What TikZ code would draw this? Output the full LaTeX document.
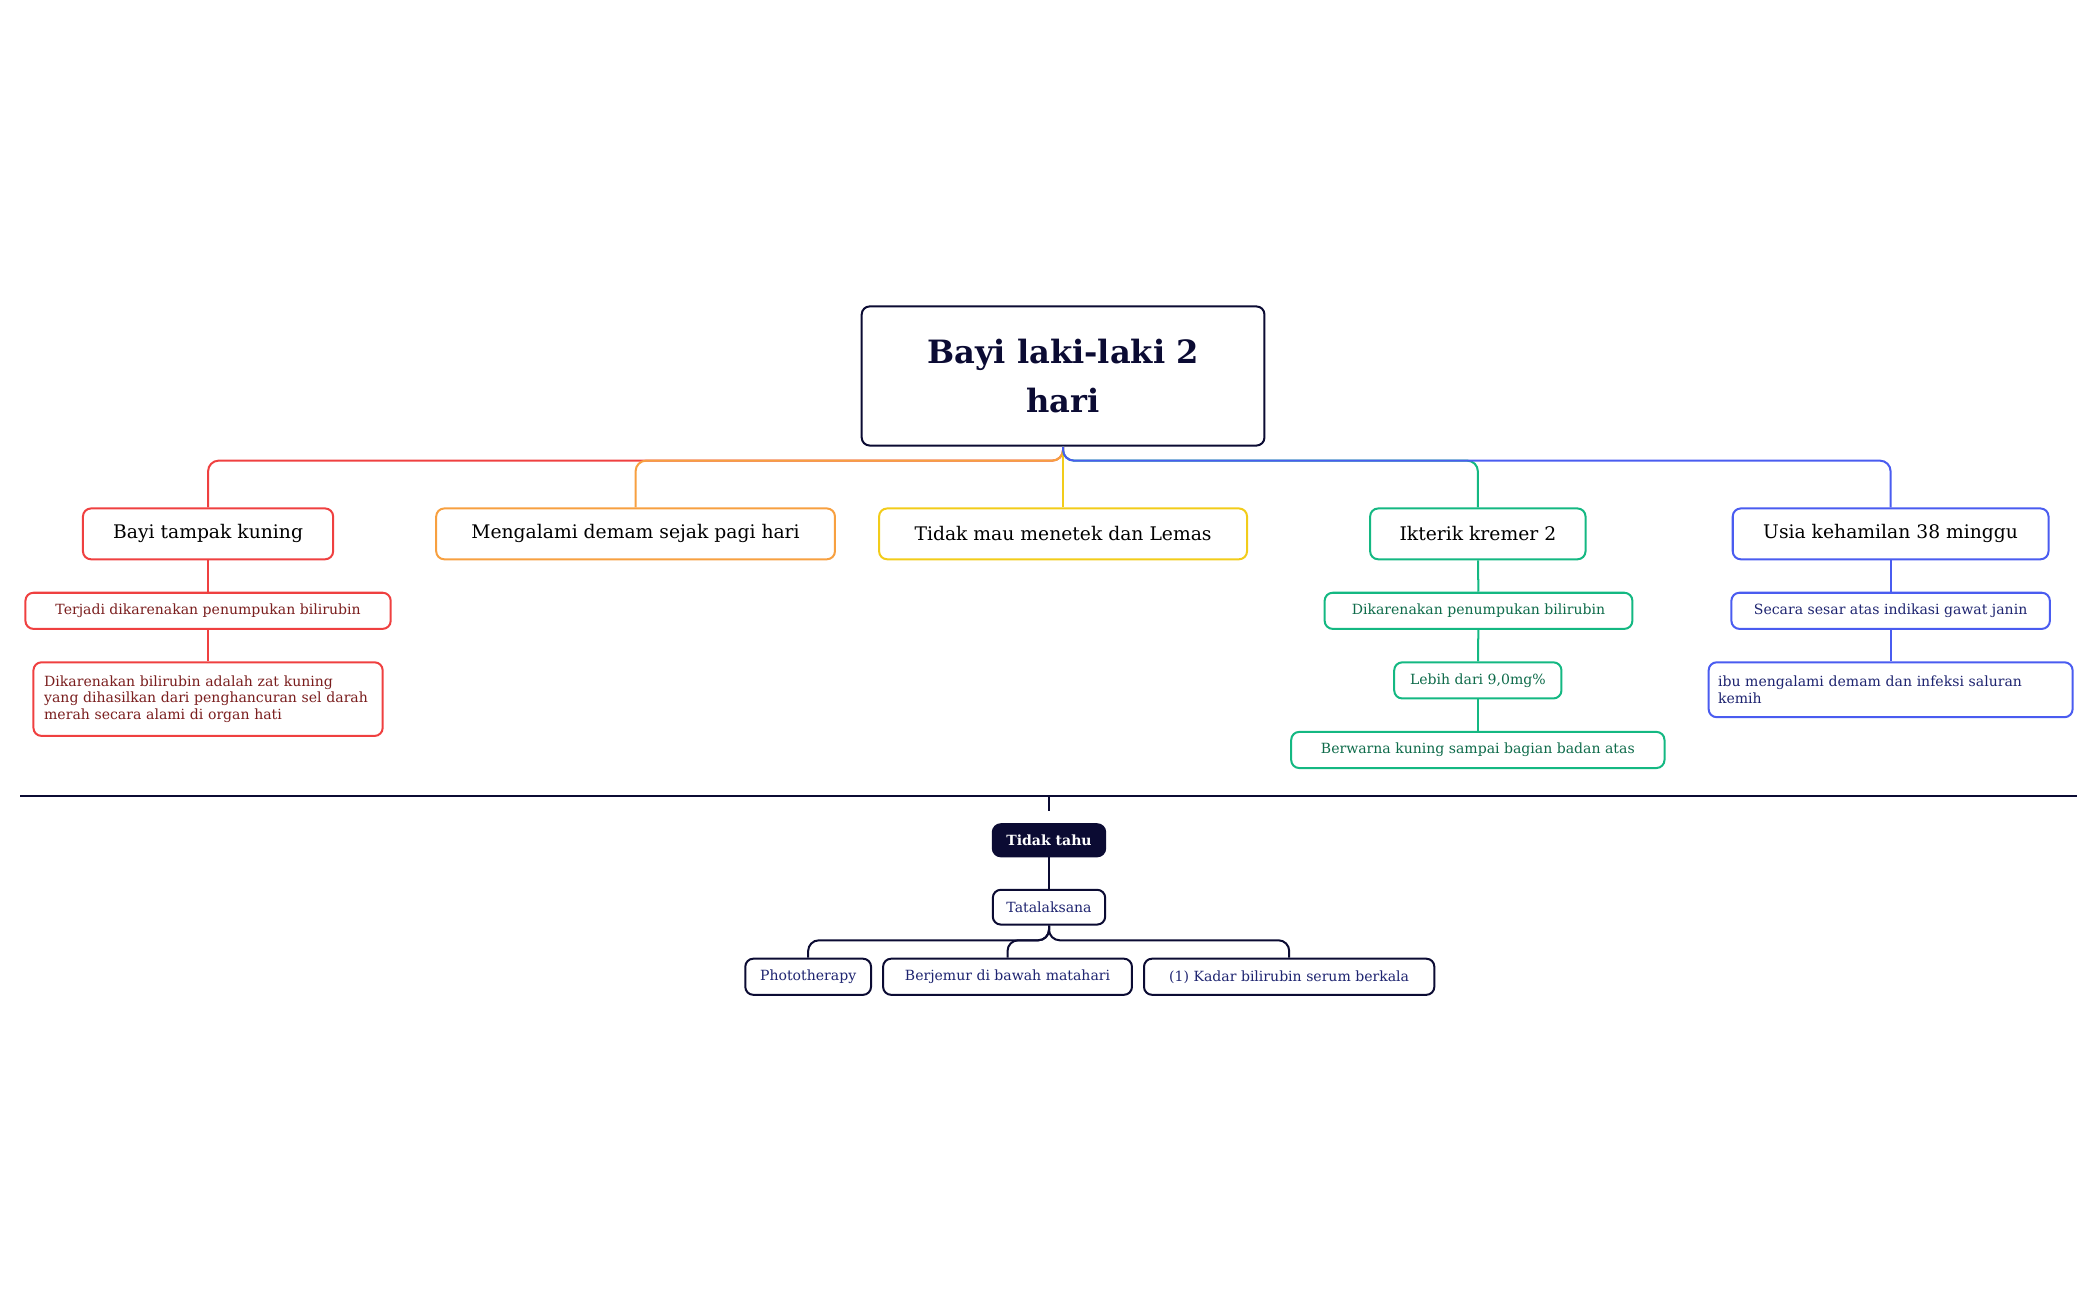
\documentclass[tikz,border=0pt]{standalone}
\usepackage{fontspec}
\setmainfont{DejaVu Serif}
\usetikzlibrary{calc}
\definecolor{nv}{HTML}{0B0B33}
\definecolor{cr}{HTML}{EF4040}
\definecolor{co}{HTML}{F7A040}
\definecolor{cy}{HTML}{F2CC1A}
\definecolor{cg}{HTML}{14B882}
\definecolor{cb}{HTML}{4A5CF0}
\definecolor{tr}{HTML}{7A1E1E}
\definecolor{tg}{HTML}{0E6B4A}
\definecolor{tb}{HTML}{1E2470}
\begin{document}
\begin{tikzpicture}[x=1pt,y=-1pt,
 box/.style={draw,line width=1.5pt,rounded corners=6pt,inner sep=0pt,align=center},
 child/.style={box,font=\fontsize{14}{16}\selectfont,minimum height=38pt},
 sub/.style={box,font=\fontsize{10.5}{12.5}\selectfont,minimum height=27pt},
 edge/.style={line width=1.5pt,rounded corners=8pt}]
\useasboundingbox (0,0) rectangle (1568,971.6);
\node[box,draw=nv,text=nv,minimum width=301pt,minimum height=104pt,font=\fontsize{24}{36}\selectfont\bfseries] (root) at (794.5,281) {Bayi laki-laki 2\\hari};
\node[child,draw=cr,minimum width=187pt] (c1) at (155.5,399) {Bayi tampak kuning};
\node[child,draw=co,minimum width=298pt] (c2) at (475,399) {Mengalami demam sejak pagi hari};
\node[child,draw=cy,minimum width=275pt] (c3) at (794.5,399) {Tidak mau menetek dan Lemas};
\node[child,draw=cg,minimum width=161pt] (c4) at (1104.5,399) {Ikterik kremer 2};
\node[child,draw=cb,minimum width=236pt] (c5) at (1413,399) {Usia kehamilan 38 minggu};
\foreach \c/\col in {c1/cr,c2/co,c3/cy,c4/cg,c5/cb}
  \draw[edge,draw=\col] (root.south) |- ($(\c.north)+(0,-35)$) -- (\c.north);
% red
\node[sub,draw=cr,text=tr,minimum width=273pt] (r1) at (155.5,456.5) {Terjadi dikarenakan penumpukan bilirubin};
\node[sub,draw=cr,text=tr,minimum width=261pt,minimum height=55pt,align=left,text width=245pt] (r2) at (155.5,522.5) {Dikarenakan bilirubin adalah zat kuning yang dihasilkan dari penghancuran sel darah merah secara alami di organ hati};
\draw[edge,draw=cr] (c1) -- (r1); \draw[edge,draw=cr] (r1) -- (r2);
% green
\node[sub,draw=cg,text=tg,minimum width=230pt] (g1) at (1105,456.5) {Dikarenakan penumpukan bilirubin};
\node[sub,draw=cg,text=tg,minimum width=125pt] (g2) at (1104.5,508.5) {Lebih dari 9,0mg\%};
\node[sub,draw=cg,text=tg,minimum width=279pt] (g3) at (1104.5,560.5) {Berwarna kuning sampai bagian badan atas};
\draw[edge,draw=cg] (c4) -- (g1); \draw[edge,draw=cg] (g1) -- (g2); \draw[edge,draw=cg] (g2) -- (g3);
% blue
\node[sub,draw=cb,text=tb,minimum width=238pt] (b1) at (1413,456.5) {Secara sesar atas indikasi gawat janin};
\node[sub,draw=cb,text=tb,minimum width=272pt,minimum height=41pt,align=left,text width=258pt] (b2) at (1413,515.5) {ibu mengalami demam dan infeksi saluran kemih};
\draw[edge,draw=cb] (c5) -- (b1); \draw[edge,draw=cb] (b1) -- (b2);
% bottom
\coordinate (L) at (15,595); \coordinate (R) at (1552,595); \coordinate (T) at (784,595);
\draw[line width=1.5pt,nv] (L) -- (R);
\node[box,draw=nv,fill=nv,text=white,font=\fontsize{10.5}{12}\selectfont\bfseries,minimum width=84pt,minimum height=24pt] (tt) at (784,628) {Tidak tahu};
\draw[line width=1.5pt,nv] (T) -- ++(0,11);
\node[sub,draw=nv,text=tb,minimum width=84pt,minimum height=26pt] (ta) at (784,678) {Tatalaksana};
\draw[edge,draw=nv] (tt) -- (ta);
\node[sub,draw=nv,text=tb,minimum width=94pt] (l1) at (604,730) {Phototherapy};
\node[sub,draw=nv,text=tb,minimum width=186pt] (l2) at (753,730) {Berjemur di bawah matahari};
\node[sub,draw=nv,text=tb,minimum width=217pt] (l3) at (963.5,730) {(1) Kadar bilirubin serum berkala};
\foreach \l in {l1,l2,l3}
  \draw[edge,draw=nv] (ta.south) |- ($(\l.north)+(0,-13)$) -- (\l.north);
\end{tikzpicture}
\end{document}
